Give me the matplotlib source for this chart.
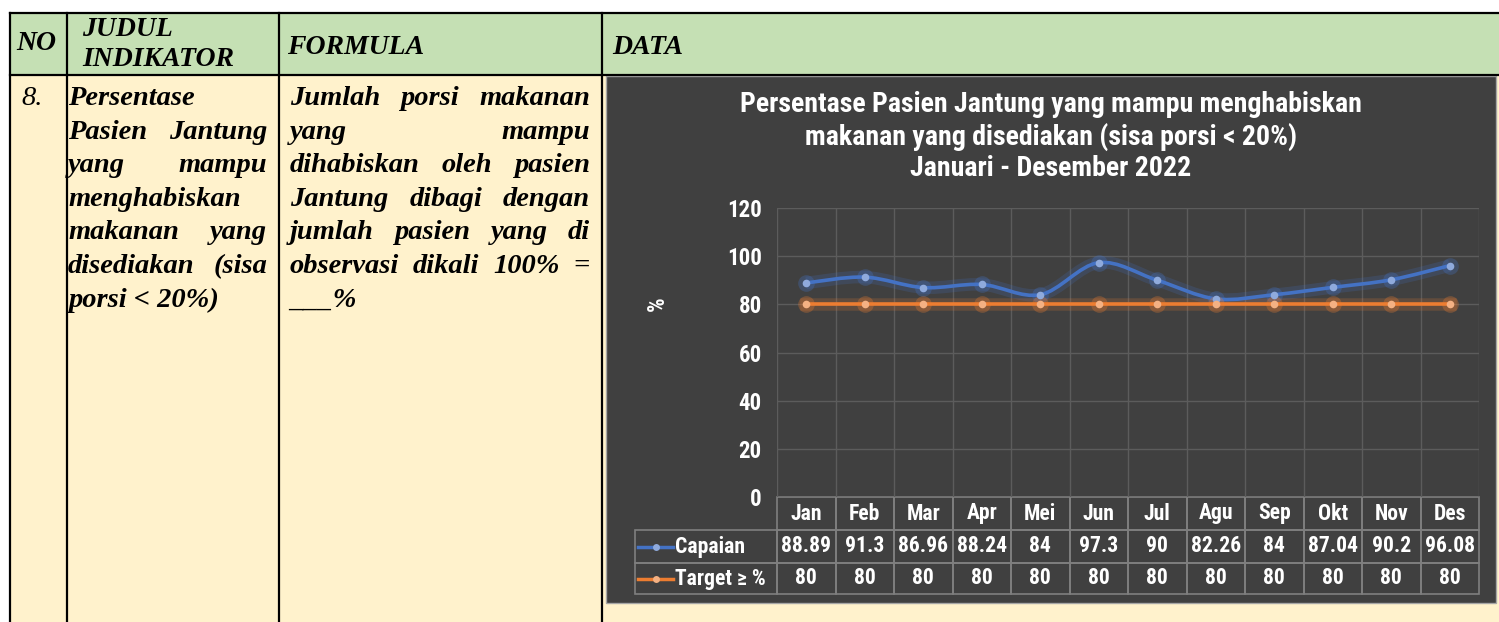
import numpy as np
import matplotlib
matplotlib.use('Agg')
import matplotlib.pyplot as plt
import matplotlib.transforms as mtransforms
from matplotlib import font_manager
from matplotlib.patches import Rectangle, PathPatch
from matplotlib.path import Path

# chart data
months = ['Jan', 'Feb', 'Mar', 'Apr', 'Mei', 'Jun', 'Jul', 'Agu', 'Sep', 'Okt', 'Nov', 'Des']
capaian = [88.89, 91.3, 86.96, 88.24, 84, 97.3, 90, 82.26, 84, 87.04, 90.2, 96.08]
target = [80, 80, 80, 80, 80, 80, 80, 80, 80, 80, 80, 80]
series_names = ['Capaian', 'Target \u2265 %']
yticks = [0, 20, 40, 60, 80, 100, 120]

title_lines = ['Persentase Pasien Jantung yang mampu menghabiskan',
               'makanan yang disediakan (sisa porsi < 20%)',
               'Januari - Desember 2022']

# table text
headers = ['NO', 'JUDUL', 'INDIKATOR', 'FORMULA', 'DATA']
row_no = '8.'
judul_lines = [('Persentase', False), ('Pasien Jantung', True), ('yang mampu', True),
               ('menghabiskan', False), ('makanan yang', True),
               ('disediakan (sisa', True), ('porsi < 20%)', False)]
formula_lines = [('Jumlah porsi makanan', True), ('yang mampu', True),
                 ('dihabiskan oleh pasien', True), ('Jantung dibagi dengan', True),
                 ('jumlah pasien yang di', True), ('observasi dikali 100% =', True),
                 ('___%', False)]

# pick a narrow sans if one is around
have = {f.name for f in font_manager.fontManager.ttflist}
narrow_name = 'Liberation Sans'
for cand in ['Liberation Sans Narrow', 'Arial Narrow', 'Roboto Condensed',
             'Open Sans Condensed', 'DejaVu Sans Condensed']:
    if cand in have:
        narrow_name = cand
        break
narrow = [narrow_name, 'DejaVu Sans']
serif = ['Liberation Serif', 'DejaVu Serif']
blue, blue_mk = '#4472C4', '#8FAADC'
orange, orange_mk = '#ED7D31', '#F4B183'

W, H = 1499, 622
fig = plt.figure(figsize=(W / 100, H / 100), dpi=100)
bg = fig.add_axes([0, 0, 1, 1])
bg.set_xlim(0, W)
bg.set_ylim(H, 0)
bg.axis('off')
renderer = fig.canvas.get_renderer()

# size factor so the title's first line is as wide as in the picture
probe = bg.text(0, 0, title_lines[0], family=narrow, fontsize=16.5, fontweight='bold')
k = 623.0 / probe.get_window_extent(renderer).width
probe.remove()

# document table
bg.add_patch(Rectangle((10, 13), W - 10, 62, facecolor='#C5E0B4', edgecolor='none'))
bg.add_patch(Rectangle((10, 75), W - 10, H - 75, facecolor='#FFF2CC', edgecolor='none'))
bg.plot([10, W], [13, 13], color='black', lw=1.6)
bg.plot([10, W], [75, 75], color='black', lw=1.6)
for xv in [10, 67, 279, 602]:
    bg.plot([xv, xv], [13, H], color='black', lw=1.6)

hk = dict(family=serif, fontsize=20, fontweight='bold', style='italic', color='black',
          va='center', ha='left')
bg.text(16, 44, headers[0], **hk)
bg.text(82, 30, headers[1], **hk)
bg.text(82, 59, headers[2], **hk)
bg.text(287, 48, headers[3], **hk)
bg.text(612, 48, headers[4], **hk)

bg.text(21, 105, row_no, va='baseline', ha='left', family=serif, fontsize=20.5,
        style='italic', color='black')

bk = dict(family=serif, fontsize=20.5, fontweight='bold', style='italic', color='black')


def put_line(line, x0, x1, y, justify):
    words = line.split(' ')
    if not justify or len(words) == 1:
        bg.text(x0, y, line, va='baseline', ha='left', **bk)
        return
    ts = [bg.text(x0, y, w, va='baseline', ha='left', **bk) for w in words]
    widths = [t.get_window_extent(renderer).width for t in ts]
    gap = (x1 - x0 - sum(widths)) / (len(words) - 1)
    xc = x0
    for t, w in zip(ts, widths):
        t.set_x(xc)
        xc += w + gap


base0, step = 105, 33.6
for i, (ln, j) in enumerate(judul_lines):
    put_line(ln, 68, 267, base0 + i * step, j)
for i, (ln, j) in enumerate(formula_lines):
    put_line(ln, 290, 590, base0 + i * step, j)

# chart panel
bg.add_patch(Rectangle((606, 76), 890, 527, facecolor='#404040', edgecolor='#A6A6A6', lw=1))
for i, ln in enumerate(title_lines):
    bg.text(1051, 105 + i * 31.5, ln, ha='center', va='center', color='white',
            family=narrow, fontsize=16.5 * k, fontweight='bold')
bg.text(657, 304, '%', ha='center', va='center', color='white',
        family=narrow, fontsize=13.5 * k, fontweight='bold', rotation=90)

ax = fig.add_axes([777 / W, (H - 497) / H, (1479 - 777) / W, (497 - 208) / H])
ax.set_facecolor('none')
ax.set_xlim(-0.5, len(months) - 0.5)
ax.set_ylim(0, 120)
ax.set_yticks(yticks)
ax.set_xticks(np.arange(-0.5, len(months), 1.0))
ax.set_xticklabels([])
ax.tick_params(length=0, colors='white', labelsize=13.5 * k, pad=11)
for lab in ax.get_yticklabels():
    lab.set_family(narrow)
    lab.set_fontweight('bold')
ax.grid(True, color='#5C5C5C', lw=1)
for s in ax.spines.values():
    s.set_visible(False)

xs = np.arange(len(months))

# smoothed capaian line (Catmull-Rom as bezier)
ys = np.array(capaian, dtype=float)
n = len(xs)
verts = [(xs[0], ys[0])]
codes = [Path.MOVETO]
for i in range(n - 1):
    p0 = np.array([xs[max(i - 1, 0)], ys[max(i - 1, 0)]])
    p1 = np.array([xs[i], ys[i]])
    p2 = np.array([xs[i + 1], ys[i + 1]])
    p3 = np.array([xs[min(i + 2, n - 1)], ys[min(i + 2, n - 1)]])
    c1 = p1 + (p2 - p0) / 6
    c2 = p2 - (p3 - p1) / 6
    verts += [tuple(c1), tuple(c2), tuple(p2)]
    codes += [Path.CURVE4] * 3
smooth = Path(verts, codes)
ax.add_patch(PathPatch(smooth, fill=False, edgecolor=blue, lw=9, alpha=0.2, zorder=3))
ax.add_patch(PathPatch(smooth, fill=False, edgecolor=blue, lw=2.6, zorder=4))
ax.plot(xs, capaian, 'o', ms=12, color=blue, alpha=0.3, mec='none', zorder=4)
ax.plot(xs, capaian, 'o', ms=5.5, color=blue_mk, mec='none', zorder=5)

ax.plot(xs, target, color=orange, lw=9, alpha=0.2, zorder=3)
ax.plot(xs, target, color=orange, lw=2.6, zorder=4)
ax.plot(xs, target, 'o', ms=12, color=orange, alpha=0.3, mec='none', zorder=4)
ax.plot(xs, target, 'o', ms=5.5, color=orange_mk, mec='none', zorder=5)

# data table under the axis
tr = mtransforms.blended_transform_factory(ax.transData, ax.transAxes)
ph = 289.0
rows = [(0, 33 / ph), (33 / ph, 33 / ph), (66 / ph, 31 / ph)]
left_x = -0.5 - (777 - 635) / 58.5
fs_tab = 12.8 * k
tk = dict(color='white', family=narrow, fontsize=fs_tab, fontweight='bold',
          ha='center', va='center', transform=tr, clip_on=False)
edge = '#7F7F7F'
for r, (top, hgt) in enumerate(rows):
    yb = -top - hgt
    for i in range(len(months)):
        ax.add_patch(Rectangle((i - 0.5, yb), 1, hgt, transform=tr, clip_on=False,
                               facecolor='none', edgecolor=edge, lw=1.2))
    if r > 0:
        ax.add_patch(Rectangle((left_x, yb), -0.5 - left_x, hgt, transform=tr,
                               clip_on=False, facecolor='none', edgecolor=edge, lw=1.2))
    yc = yb + hgt / 2
    if r == 0:
        cells = months
    elif r == 1:
        cells = ['{:g}'.format(v) for v in capaian]
    else:
        cells = ['{:g}'.format(v) for v in target]
    for i, c in enumerate(cells):
        ax.text(i, yc, c, **tk)
    if r > 0:
        col, mk = (blue, blue_mk) if r == 1 else (orange, orange_mk)
        kx0 = -0.5 + (638 - 777) / 58.5
        kx1 = -0.5 + (673 - 777) / 58.5
        ax.plot([kx0, kx1], [yc, yc], color=col, lw=2.5, transform=tr, clip_on=False)
        ax.plot([(kx0 + kx1) / 2], [yc], 'o', ms=5, color=mk, mec='none',
                transform=tr, clip_on=False)
        ax.text(kx1 + 0.03, yc, series_names[r - 1], color='white', family=narrow,
                fontsize=fs_tab, fontweight='bold', ha='left', va='center',
                transform=tr, clip_on=False)

fig.savefig('out.png', dpi=100)
